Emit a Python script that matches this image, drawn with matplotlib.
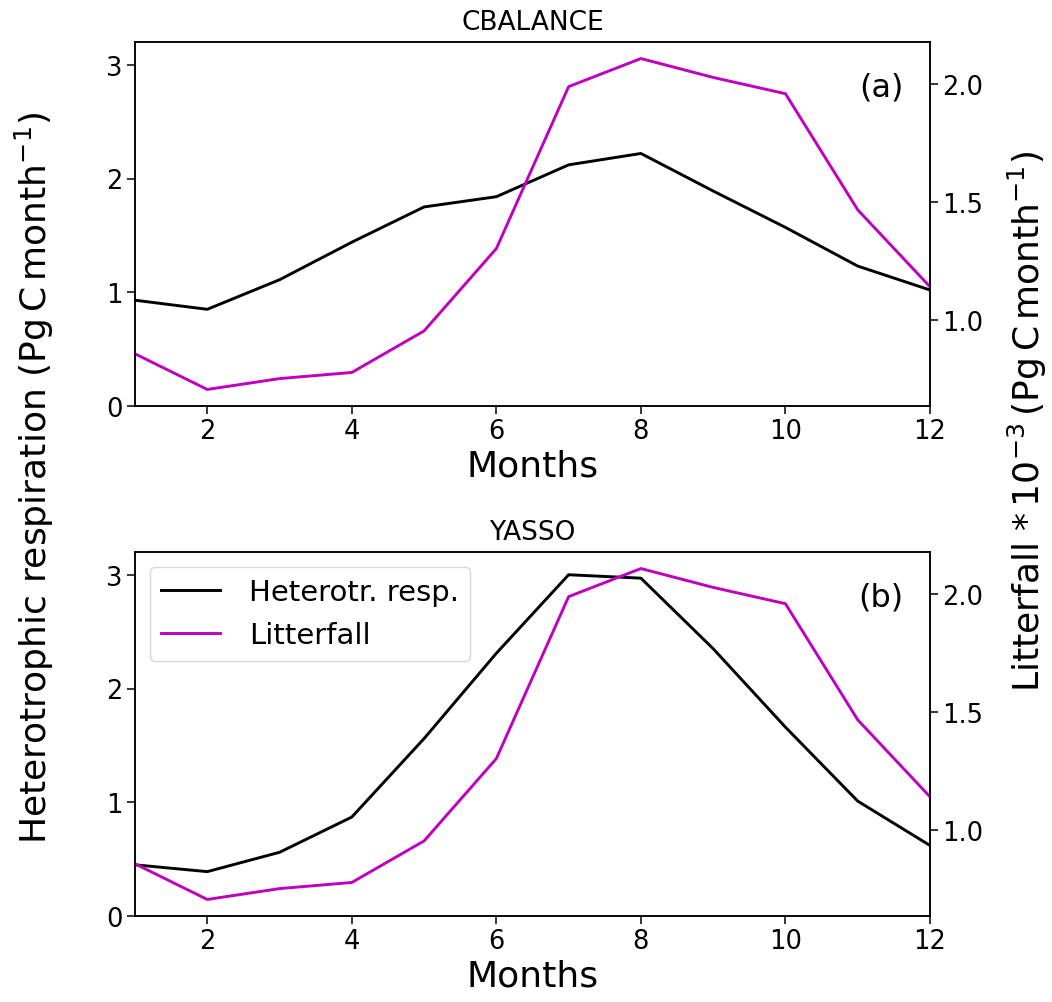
import numpy as np
import matplotlib
matplotlib.use('Agg')
import matplotlib.pyplot as plt

# Monthly values
months = np.arange(1, 13)
resp_cbalance = [0.93, 0.85, 1.11, 1.44, 1.75, 1.84, 2.12, 2.22, 1.89, 1.57, 1.23, 1.02]
resp_yasso = [0.45, 0.39, 0.56, 0.87, 1.56, 2.31, 3.00, 2.97, 2.35, 1.66, 1.01, 0.62]
litterfall = [0.855, 0.704, 0.750, 0.776, 0.952, 1.301, 1.987, 2.106, 2.026, 1.957, 1.465, 1.139]

panels = [
    ('CBALANCE', '(a)', resp_cbalance),
    ('YASSO', '(b)', resp_yasso),
]

W, H = 1052, 1003
fig = plt.figure(figsize=(W / 100, H / 100), dpi=100)

left = 135 / W
width = (930 - 135) / W
boxes = [(1 - 407 / H, (407 - 43) / H), (1 - 917 / H, (917 - 553) / H)]

for (title, tag, resp), (bottom, height) in zip(panels, boxes):
    ax = fig.add_axes([left, bottom, width, height])
    ax2 = ax.twinx()

    l1, = ax.plot(months, resp, color='k', lw=2.1, label='Heterotr. resp.')
    l2, = ax2.plot(months, litterfall, color='m', lw=2.1, label='Litterfall')

    ax.set_xlim(1, 12)
    ax.set_ylim(0, 3.2)
    ax.set_xticks([2, 4, 6, 8, 10, 12])
    ax.set_yticks([0, 1, 2, 3])
    ax2.set_yticks([1.0, 1.5, 2.0])
    ax2.yaxis.set_major_formatter(matplotlib.ticker.FormatStrFormatter('%.1f'))

    for a in (ax, ax2):
        a.tick_params(labelsize=18.5, length=5.5, width=1.1)
        for s in a.spines.values():
            s.set_linewidth(1.1)

    ax.set_title(title, fontsize=19, pad=9)
    ax.set_xlabel('Months', fontsize=26, labelpad=3)
    ax.text(0.967, 0.876, tag, transform=ax.transAxes, ha='right', va='center', fontsize=23)

    if tag == '(b)':
        ax.legend(handles=[l1, l2], loc='upper left', fontsize=21,
                  borderaxespad=0.5, handlelength=2.0, handletextpad=1.0)

fig.text(34 / W, 1 - 478 / H, r'Heterotrophic respiration (Pg$\,$C$\,$month$^{-1}$)',
         rotation=90, ha='center', va='center', fontsize=26)
fig.text(1027 / W, 1 - 422 / H, r'Litterfall $*\,10^{-3}\,$(Pg$\,$C$\,$month$^{-1}$)',
         rotation=90, ha='center', va='center', fontsize=26)

fig.savefig('out.png', dpi=100)
